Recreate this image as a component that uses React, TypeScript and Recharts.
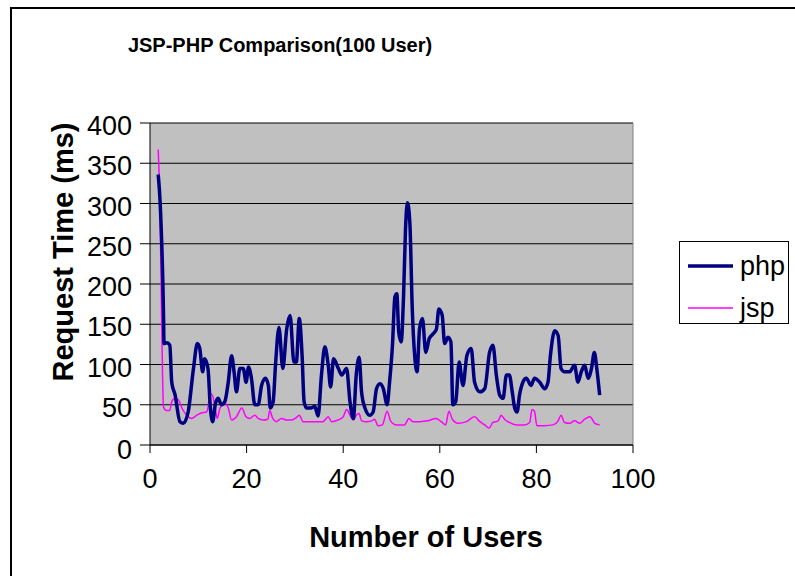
import React from "react";
import { LineChart, Line, XAxis, YAxis, CartesianGrid, ReferenceLine } from "recharts";

const phpUsers = [1.7, 2.1, 2.8, 2.9, 3.5, 4.1, 4.5, 5.2, 6.2, 6.9, 7.9, 9.0, 9.8, 10.3, 10.9, 11.3, 12.0, 12.5, 13.0, 13.5, 14.1, 14.8, 15.5, 16.2, 16.9, 17.4, 17.9, 18.6, 19.3, 19.9, 20.4, 21.0, 21.7, 22.4, 23.1, 23.9, 24.5, 24.9, 25.5, 26.0, 26.7, 27.5, 28.3, 29.0, 29.8, 30.3, 30.9, 31.5, 31.9, 32.4, 33.4, 34.1, 34.8, 35.5, 36.2, 36.9, 37.4, 38.0, 39.0, 39.7, 40.7, 41.4, 42.1, 42.7, 43.3, 43.8, 44.5, 45.5, 46.2, 46.9, 47.6, 48.3, 49.1, 49.6, 50.2, 50.7, 51.1, 51.5, 52.0, 52.5, 52.9, 53.3, 53.8, 54.3, 54.8, 55.3, 55.8, 56.4, 57.1, 57.8, 58.6, 59.3, 59.8, 60.5, 61.0, 61.7, 62.3, 62.7, 63.3, 64.0, 64.8, 65.6, 66.5, 67.2, 68.3, 69.3, 70.3, 71.0, 71.7, 72.4, 73.1, 73.8, 74.4, 75.0, 75.5, 76.0, 76.5, 77.2, 77.9, 78.9, 79.6, 80.7, 81.7, 82.4, 82.9, 83.8, 84.5, 85.1, 85.8, 86.9, 87.9, 88.6, 89.3, 90.0, 90.7, 91.4, 92.0, 92.5, 93.1];
const phpTimes = [336, 301, 161, 126, 127, 124, 78, 62, 29, 27, 41, 95, 126, 120, 91, 107, 95, 46, 29, 50, 58, 50, 54, 78, 111, 91, 66, 95, 95, 78, 97, 83, 50, 50, 74, 83, 74, 46, 54, 101, 146, 95, 144, 161, 103, 103, 157, 110, 54, 46, 46, 48, 36, 87, 122, 99, 72, 107, 95, 87, 95, 54, 33, 87, 109, 66, 46, 37, 41, 70, 76, 70, 50, 78, 124, 184, 188, 140, 128, 186, 268, 301, 276, 169, 111, 91, 144, 157, 115, 132, 138, 144, 169, 161, 126, 134, 128, 50, 54, 103, 74, 111, 120, 78, 66, 70, 115, 124, 87, 62, 58, 87, 87, 66, 46, 41, 62, 78, 83, 74, 83, 78, 70, 78, 111, 142, 136, 95, 91, 91, 99, 78, 91, 99, 83, 95, 115, 95, 62];

const jspUsers = [1.7, 2.1, 2.4, 2.6, 2.8, 3.4, 4.1, 4.5, 5.2, 5.9, 6.6, 7.6, 8.6, 9.7, 10.7, 11.7, 12.0, 12.4, 12.9, 13.5, 13.9, 14.5, 15.5, 16.2, 16.9, 17.9, 19.0, 19.9, 20.7, 21.7, 22.4, 23.4, 24.4, 24.8, 25.4, 26.2, 27.2, 28.3, 29.3, 30.3, 30.9, 31.7, 33.8, 35.8, 36.9, 37.6, 38.9, 40.0, 40.7, 41.4, 42.1, 42.7, 43.3, 43.8, 44.8, 45.9, 46.5, 47.2, 48.1, 49.1, 49.8, 51.0, 52.7, 53.6, 54.4, 55.8, 57.5, 59.2, 60.3, 61.2, 61.9, 62.6, 63.8, 65.5, 67.2, 68.3, 69.3, 70.2, 71.0, 72.1, 72.7, 73.4, 74.4, 75.8, 77.5, 78.6, 79.1, 79.6, 80.1, 81.7, 83.4, 84.5, 85.1, 85.8, 86.9, 87.9, 89.0, 90.0, 91.1, 92.1, 93.1];
const jspTimes = [367, 285, 161, 87, 47, 43, 43, 54, 58, 56, 46, 37, 33, 37, 40, 41, 46, 64, 62, 46, 33, 46, 52, 46, 31, 35, 46, 35, 33, 37, 33, 31, 32, 43, 33, 29, 33, 31, 31, 34, 37, 29, 29, 29, 35, 29, 31, 35, 44, 37, 31, 37, 39, 30, 29, 30, 32, 24, 25, 42, 30, 25, 25, 33, 29, 29, 30, 33, 29, 25, 42, 32, 27, 29, 35, 29, 25, 21, 28, 30, 37, 32, 28, 25, 25, 28, 44, 42, 24, 24, 25, 30, 37, 28, 27, 30, 27, 32, 35, 27, 25];

const xTicks = [0, 20, 40, 60, 80, 100];
const yTicks = [0, 50, 100, 150, 200, 250, 300, 350, 400];

const phpData = phpUsers.map((x, i) => ({ x, v: phpTimes[i] }));
const jspData = jspUsers.map((x, i) => ({ x, v: jspTimes[i] }));

const FONT = "'Liberation Sans', Arial, sans-serif";

const YTick = (props: any) => {
  const { x, y, payload } = props;
  return (
    <text x={x} y={y} dy={payload.value === 0 ? 14 : 12} textAnchor="end" fontFamily={FONT} fontSize={27} fill="#000">
      {payload.value}
    </text>
  );
};

const XTick = (props: any) => {
  const { x, y, payload } = props;
  return (
    <text x={x} y={y} dy={33} textAnchor="middle" fontFamily={FONT} fontSize={27} fill="#000">
      {payload.value}
    </text>
  );
};

export default function App() {
  return (
    <div style={{ position: "absolute", left: 0, top: 0, width: 795, height: 576, overflow: "hidden", background: "#fff" }}>
      <div
        style={{
          position: "absolute",
          left: 10,
          top: 7,
          width: 820,
          height: 620,
          borderLeft: "2px solid #000",
          borderTop: "2px solid #000",
        }}
      />
      <div style={{ position: "absolute", left: 0, top: 0 }}>
        <LineChart
          width={795}
          height={576}
          margin={{ top: 123, right: 162, bottom: 81, left: 90 }}
        >
          <CartesianGrid
            fill="#c0c0c0"
            vertical={false}
            stroke="#000"
            strokeOpacity={1}
            horizontalValues={yTicks}
          />
          <XAxis
            dataKey="x"
            type="number"
            domain={[0, 100]}
            ticks={xTicks}
            allowDataOverflow
            height={50}
            tickSize={8}
            tickMargin={2}
            tick={<XTick />}
            axisLine={{ stroke: "#000" }}
            tickLine={{ stroke: "#000" }}
          />
          <YAxis
            type="number"
            domain={[0, 400]}
            ticks={yTicks}
            allowDataOverflow
            width={60}
            tickSize={10}
            tickMargin={8}
            tick={<YTick />}
            axisLine={{ stroke: "#000" }}
            tickLine={{ stroke: "#000" }}
          />
          <ReferenceLine x={100} stroke="#808080" />
          <Line
            data={jspData}
            dataKey="v"
            name="jsp"
            type="monotone"
            stroke="#ff00ff"
            strokeWidth={1.5}
            dot={false}
            isAnimationActive={false}
          />
          <Line
            data={phpData}
            dataKey="v"
            name="php"
            type="monotone"
            stroke="#000080"
            strokeWidth={3.5}
            dot={false}
            isAnimationActive={false}
          />
        </LineChart>
      </div>
      <div
        style={{
          position: "absolute",
          left: 679,
          top: 241,
          width: 108,
          height: 81,
          border: "1px solid #000",
          background: "#fff",
        }}
      >
        <svg width={108} height={81} style={{ position: "absolute", left: 0, top: 0 }}>
          <line x1={8} x2={53} y1={24} y2={24} stroke="#000080" strokeWidth={3.5} />
          <text x={60} y={33} fontFamily={FONT} fontSize={27} fill="#000">php</text>
          <line x1={8} x2={53} y1={66} y2={66} stroke="#ff00ff" strokeWidth={1.5} />
          <text x={60} y={75} fontFamily={FONT} fontSize={27} fill="#000">jsp</text>
        </svg>
      </div>
      <svg width={795} height={576} style={{ position: "absolute", left: 0, top: 0, pointerEvents: "none" }}>
        <text x={280} y={52} textAnchor="middle" fontFamily={FONT} fontSize={20} fontWeight="bold" fill="#000">
          JSP-PHP Comparison(100 User)
        </text>
        <text x={426} y={547} textAnchor="middle" fontFamily={FONT} fontSize={29} fontWeight="bold" fill="#000">
          Number of Users
        </text>
        <text
          x={73}
          y={252}
          textAnchor="middle"
          fontFamily={FONT}
          fontSize={29}
          fontWeight="bold"
          fill="#000"
          transform="rotate(-90 73 252)"
        >
          Request Time (ms)
        </text>
      </svg>
    </div>
  );
}
